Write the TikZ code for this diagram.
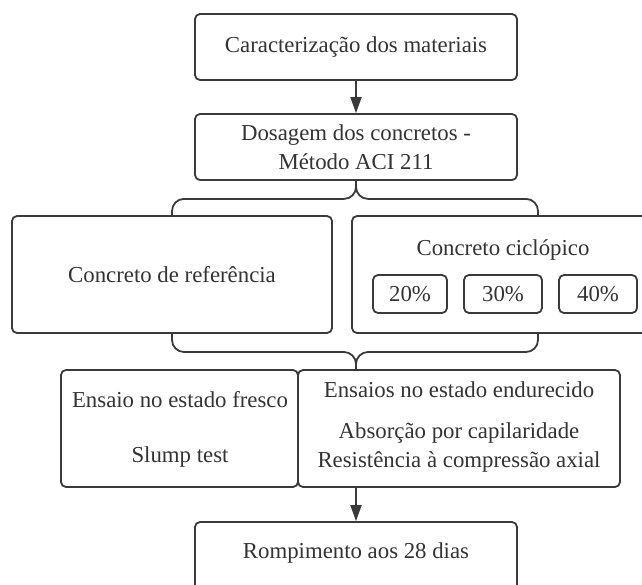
\documentclass[tikz,border=0pt]{standalone}
\usepackage{fontspec}
\setmainfont{Liberation Serif}
\usetikzlibrary{arrows.meta}
\definecolor{ln}{HTML}{3A3A3A}
\definecolor{tx}{HTML}{333333}
\tikzset{
  txt/.style={text=tx, align=center, inner sep=0pt, font=\fontsize{22.8}{29}\selectfont},
  box/.style={txt, draw=ln, line width=1.8pt, rounded corners=5pt},
  conn/.style={draw=ln, line width=1.8pt},
  arr/.style={conn, -{Triangle[length=16pt,width=11pt]}},
  bracelines/.style={conn, rounded corners=12pt}
}
\begin{document}
\begin{tikzpicture}[x=1pt,y=-1pt]
\useasboundingbox (0,0) rectangle (642,584);
\begin{scope}
\clip (0,0) rectangle (642,584);
% top boxes
\node[box, minimum width=322pt, minimum height=66pt] (n1) at (356,47) {Caracterização dos materiais};
\node[box, minimum width=322pt, minimum height=66pt] (n2) at (356,147) {Dosagem dos concretos -\\Método ACI 211};
% middle row
\node[box, minimum width=320pt, minimum height=117pt] (ref) at (172,274.5) {Concreto de referência};
\node[box, minimum width=320pt, minimum height=117pt] (cic) at (512,274.5) {};
\node[txt] (cict) at (503,250) {Concreto ciclópico};
\node[box, minimum width=74pt, minimum height=38pt] (p20) at (410,294) {20\%};
\node[box, minimum width=78pt, minimum height=38pt] (p30) at (503,294) {30\%};
\node[box, minimum width=78pt, minimum height=38pt] (p40) at (598,294) {40\%};
% bottom row
\node[box, minimum width=237pt, minimum height=117pt] (fre) at (179.5,428.5) {};
\node[box, minimum width=322pt, minimum height=117pt] (end) at (459,428.5) {};
\node[txt] (fre1) at (180,400) {Ensaio no estado fresco};
\node[txt] (fre2) at (180,457) {Slump test};
\node[txt] (end1) at (459,390) {Ensaios no estado endurecido};
\node[txt] (end2) at (459,448) {Absorção por capilaridade\\Resistência à compressão axial};
\node[box, minimum width=322pt, minimum height=90pt] (rom) at (356,567) {};
\node[txt] (romt) at (356,553) {Rompimento aos 28 dias};
% connectors
\draw[arr] (n1.south) -- (n2.north);
\coordinate (bl1) at (172,216);
\coordinate (br1) at (538,216);
\draw[bracelines] (n2.south) -- ++(0,18) -| (bl1);
\draw[bracelines] (n2.south) -- ++(0,18) -| (br1);
\coordinate (bl2) at (172,333);
\coordinate (br2) at (538,333);
\coordinate (tip2) at (356,370);
\draw[bracelines] (tip2) -- ++(0,-18) -| (bl2);
\draw[bracelines] (tip2) -- ++(0,-18) -| (br2);
\draw[arr] (rom.north |- end.south) -- (rom.north);
\end{scope}
\end{tikzpicture}
\end{document}
